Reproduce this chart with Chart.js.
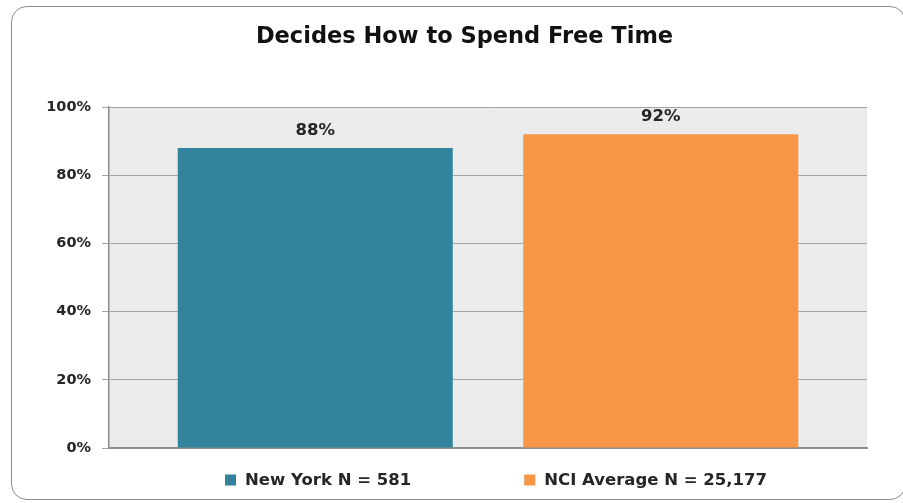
<!DOCTYPE html>
<html>
<head>
<meta charset="utf-8">
<script src="https://cdn.jsdelivr.net/npm/chart.js@4"></script>
<style>
  html, body { margin: 0; padding: 0; background: #ffffff; }
  #wrap { position: relative; width: 903px; height: 503px; overflow: hidden; }
  #frame { position: absolute; left: 11px; top: 6px; width: 895px; height: 494px;
           border: 1.5px solid #8c8c8c; border-radius: 16px; box-sizing: border-box; pointer-events: none; }
  canvas { position: absolute; left: 0; top: 0; }
</style>
</head>
<body>
<div id="wrap">
  <canvas id="c" width="903" height="503"></canvas>
  <div id="frame"></div>
</div>
<script>
// ---- data ----
const chartTitle = 'Decides How to Spend Free Time';
const categories = [''];
const seriesNames = ['New York N = 581', 'NCI Average N = 25,177'];
const seriesValues = [88, 92];
const seriesColors = ['#31849b', '#f79646'];
const tickValues = [0, 20, 40, 60, 80, 100];
const tickLabels = ['0%', '20%', '40%', '60%', '80%', '100%'];

const FONT = "'DejaVu Sans', sans-serif";

const plotBg = {
  id: 'plotBg',
  beforeDraw(chart) {
    const a = chart.chartArea, ctx = chart.ctx;
    ctx.save();
    ctx.fillStyle = '#ebebeb';
    ctx.fillRect(a.left, a.top, a.right - a.left, a.bottom - a.top);
    ctx.restore();
  }
};

const shiftTitle = {
  id: 'shiftTitle',
  afterLayout(chart) {
    const t = chart.titleBlock;
    if (t) { t.left += 31; t.right += 31; }
  }
};

const dataLabels = {
  id: 'dataLabels',
  afterDatasetsDraw(chart) {
    const ctx = chart.ctx;
    ctx.save();
    ctx.font = 'bold 16.5px ' + FONT;
    ctx.fillStyle = '#262626';
    ctx.textAlign = 'center';
    ctx.textBaseline = 'alphabetic';
    chart.data.datasets.forEach((ds, i) => {
      const meta = chart.getDatasetMeta(i);
      meta.data.forEach((bar, j) => {
        ctx.fillText(ds.data[j] + '%', bar.x, bar.y - 13);
      });
    });
    ctx.restore();
  }
};

const bottomLegend = {
  id: 'bottomLegend',
  afterDraw(chart) {
    const ctx = chart.ctx;
    ctx.save();
    ctx.font = 'bold 16.5px ' + FONT;
    ctx.textBaseline = 'middle';
    ctx.textAlign = 'left';
    const box = 11, gapText = 9, gapItem = 113, cy = 480, cx = 496;
    const items = chart.data.datasets.map(ds => ({ label: ds.label, color: ds.backgroundColor, w: ctx.measureText(ds.label).width }));
    let total = 0;
    items.forEach((it, i) => { total += box + gapText + it.w + (i ? gapItem : 0); });
    let x = cx - total / 2;
    items.forEach((it) => {
      ctx.fillStyle = it.color;
      ctx.fillRect(x, cy - box / 2, box, box);
      ctx.fillStyle = '#262626';
      ctx.fillText(it.label, x + box + gapText, cy + 1);
      x += box + gapText + it.w + gapItem;
    });
    ctx.restore();
  }
};

new Chart(document.getElementById('c'), {
  type: 'bar',
  data: {
    labels: categories,
    datasets: seriesNames.map((name, i) => ({
      label: name,
      data: [seriesValues[i]],
      backgroundColor: seriesColors[i],
      borderWidth: 0,
      categoryPercentage: 0.9116,
      barPercentage: 0.796
    }))
  },
  options: {
    responsive: false,
    animation: false,
    layout: { padding: { left: 0, right: 36, top: 0, bottom: 55 } },
    plugins: {
      legend: { display: false },
      tooltip: { enabled: false },
      title: {
        display: true,
        text: chartTitle,
        color: '#111111',
        font: { family: FONT, size: 22.5, weight: 'bold', lineHeight: 1.2 },
        padding: { top: 24, bottom: 56 }
      }
    },
    scales: {
      x: {
        ticks: { display: false },
        grid: { display: false },
        border: { display: true, color: '#8c8c8c', width: 2 },
        afterFit(scale) { scale.height = 0; }
      },
      y: {
        min: 0,
        max: 100,
        afterBuildTicks(scale) { scale.ticks = tickValues.map(v => ({ value: v })); },
        ticks: {
          callback: (v) => tickLabels[tickValues.indexOf(v)],
          color: '#262626',
          font: { family: FONT, size: 14.5, weight: 'bold' },
          padding: 11
        },
        grid: { color: '#a3a3a3', lineWidth: 1, tickLength: 7, drawTicks: true },
        border: { display: true, color: '#8c8c8c', width: 1.5 },
        afterFit(scale) { scale.width = 109; }
      }
    }
  },
  plugins: [plotBg, shiftTitle, dataLabels, bottomLegend]
});
</script>
</body>
</html>
